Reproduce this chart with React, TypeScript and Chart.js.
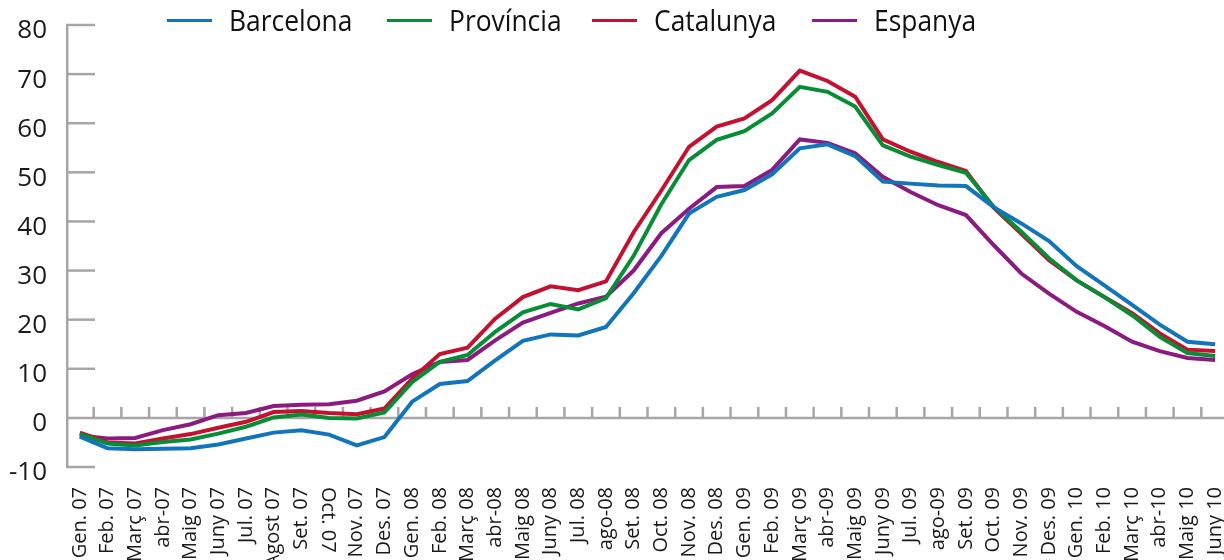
import React, { useEffect, useRef } from "react";
import { Chart, registerables } from "chart.js";

Chart.register(...registerables);

const categories = [
  "Gen. 07", "Feb. 07", "Març 07", "abr-07", "Maig 07", "Juny 07", "Jul. 07", "Agost 07", "Set. 07", "Oct. 07",
  "Nov. 07", "Des. 07", "Gen. 08", "Feb. 08", "Març 08", "abr-08", "Maig 08", "Juny 08", "Jul. 08", "ago-08",
  "Set. 08", "Oct. 08", "Nov. 08", "Des. 08", "Gen. 09", "Feb. 09", "Març 09", "abr-09", "Maig 09", "Juny 09",
  "Jul. 09", "ago-09", "Set. 09", "Oct. 09", "Nov. 09", "Des. 09", "Gen. 10", "Feb. 10", "Març 10", "abr-10",
  "Maig 10", "Juny 10",
];

const barcelona = [-3.8, -6.2, -6.4, -6.3, -6.2, -5.4, -4.2, -3.0, -2.5, -3.4, -5.6, -3.9, 3.3, 6.9, 7.5, 11.7, 15.7, 17.0, 16.8, 18.5, 25.4, 33.0, 41.6, 45.0, 46.4, 49.6, 54.9, 55.7, 53.3, 48.1, 47.7, 47.3, 47.2, 42.9, 39.6, 36.0, 30.9, 27.0, 23.0, 19.0, 15.5, 15.0];
const provincia = [-3.3, -5.2, -5.6, -4.9, -4.4, -3.2, -1.8, 0.1, 0.7, 0.0, -0.1, 1.1, 7.3, 11.4, 12.8, 17.5, 21.5, 23.2, 22.1, 24.4, 33.0, 43.5, 52.5, 56.6, 58.4, 62.0, 67.4, 66.4, 63.4, 55.5, 53.2, 51.5, 49.9, 43.0, 37.9, 32.5, 28.0, 24.6, 20.9, 16.5, 13.2, 12.6];
const catalunya = [-3.0, -5.0, -5.2, -4.2, -3.3, -2.0, -0.8, 1.2, 1.4, 1.0, 0.75, 1.9, 8.0, 13.0, 14.3, 20.2, 24.6, 26.8, 26.0, 27.8, 37.8, 46.3, 55.2, 59.3, 61.0, 64.7, 70.7, 68.6, 65.4, 56.7, 54.2, 52.1, 50.3, 42.8, 37.5, 32.1, 28.0, 24.6, 21.3, 17.2, 13.9, 13.6];
const espanya = [-3.6, -4.2, -4.1, -2.5, -1.3, 0.55, 1.0, 2.4, 2.7, 2.8, 3.5, 5.4, 8.9, 11.4, 11.8, 15.8, 19.4, 21.4, 23.3, 24.7, 30.0, 37.6, 42.6, 47.0, 47.2, 50.5, 56.7, 56.0, 53.9, 49.1, 46.0, 43.3, 41.3, 35.2, 29.4, 25.3, 21.6, 18.7, 15.5, 13.6, 12.2, 11.8];

const seriesNames = ["Barcelona", "Província", "Catalunya", "Espanya"];
const seriesColors = ["#1275bb", "#078d35", "#c4112f", "#8c1b80"];
const yTicks = [-10, 0, 10, 20, 30, 40, 50, 60, 70, 80];
const flippedLabelIndex = 9;

const legendLeft = [167, 387, 592, 812];

const FONT = "'Open Sans', 'Noto Sans', sans-serif";
const AXIS_GRAY = "#a6a6a6";

const axisPlugin = {
  id: "customAxes",
  beforeDatasetsDraw(chart: any) {
    const ctx = chart.ctx;
    const x = chart.scales.x;
    const y = chart.scales.y;
    const area = chart.chartArea;
    ctx.save();
    ctx.strokeStyle = AXIS_GRAY;
    ctx.lineWidth = 2.5;
    const ax = area.left + 1.2;
    ctx.beginPath();
    ctx.moveTo(ax, y.getPixelForValue(80));
    ctx.lineTo(ax, y.getPixelForValue(-10));
    ctx.stroke();
    yTicks.forEach((v) => {
      const py = y.getPixelForValue(v);
      ctx.beginPath();
      ctx.moveTo(area.left, py);
      ctx.lineTo(v === 0 ? area.right : area.left + 29, py);
      ctx.stroke();
    });
    const py0 = y.getPixelForValue(0);
    for (let i = 0; i < categories.length - 1; i++) {
      const bx = (x.getPixelForValue(i) + x.getPixelForValue(i + 1)) / 2;
      ctx.beginPath();
      ctx.moveTo(bx, py0);
      ctx.lineTo(bx, py0 - 11);
      ctx.stroke();
    }
    ctx.restore();
  },
  afterDraw(chart: any) {
    const ctx = chart.ctx;
    const x = chart.scales.x;
    const area = chart.chartArea;
    ctx.save();
    ctx.fillStyle = "#1a1a1a";
    ctx.font = `20px ${FONT}`;
    ctx.textBaseline = "middle";
    ctx.textAlign = "left";
    const px = x.getPixelForValue(flippedLabelIndex);
    ctx.translate(px - 1, area.bottom + 20);
    ctx.rotate(Math.PI / 2);
    ctx.fillText(categories[flippedLabelIndex], 0, 0);
    ctx.restore();
  },
};

export default function App() {
  const canvasRef = useRef<HTMLCanvasElement | null>(null);

  useEffect(() => {
    document.body.style.margin = "0";
    const canvas = canvasRef.current;
    if (!canvas) return;
    const data = [barcelona, provincia, catalunya, espanya];
    const chart = new Chart(canvas, {
      type: "line",
      data: {
        labels: categories,
        datasets: data.map((d, i) => ({
          label: seriesNames[i],
          data: d,
          borderColor: seriesColors[i],
          backgroundColor: seriesColors[i],
          borderWidth: 4,
          pointRadius: 0,
          tension: 0,
          fill: false,
        })),
      },
      options: {
        responsive: false,
        animation: false,
        devicePixelRatio: 1,
        layout: { padding: { top: 25, left: 0, right: 0, bottom: 0 } },
        plugins: {
          legend: { display: false },
          tooltip: { enabled: false },
        },
        scales: {
          x: {
            type: "category",
            offset: true,
            grid: { display: false, drawTicks: false },
            border: { display: false },
            ticks: {
              autoSkip: false,
              maxRotation: 90,
              minRotation: 90,
              padding: 20,
              color: "#1a1a1a",
              font: { family: FONT, size: 20 },
              callback: (_v: any, i: number) => (i === flippedLabelIndex ? "" : categories[i]),
            },
            afterFit: (s: any) => {
              s.height = 93;
              s.paddingLeft = 0;
              s.paddingRight = 0;
            },
          },
          y: {
            min: -10,
            max: 80,
            grid: { display: false, drawTicks: false },
            border: { display: false },
            ticks: {
              stepSize: 10,
              padding: 19,
              labelOffset: 6,
              color: "#1a1a1a",
              font: { family: FONT, size: 26 },
            },
            afterFit: (s: any) => {
              s.width = 66;
              s.paddingTop = 0;
              s.paddingBottom = 0;
            },
          },
        },
      },
      plugins: [axisPlugin],
    });
    return () => chart.destroy();
  }, []);

  return (
    <div style={{ position: "relative", width: 1224, height: 560, overflow: "hidden", background: "#fff" }}>
      <canvas ref={canvasRef} width={1229} height={560} style={{ display: "block", width: 1229, height: 560 }} />
      {seriesNames.map((name, i) => (
        <div key={name} style={{ position: "absolute", left: legendLeft[i], top: 0, height: 40 }}>
          <div style={{ position: "absolute", left: 0, top: 19, width: 45, height: 3, background: seriesColors[i] }} />
          <div
            style={{
              position: "absolute",
              left: 62,
              top: 5,
              fontFamily: FONT,
              fontSize: 30,
              lineHeight: "30px",
              color: "#111",
              whiteSpace: "nowrap",
              transform: "scaleX(0.88)",
              transformOrigin: "left center",
            }}
          >
            {name}
          </div>
        </div>
      ))}
    </div>
  );
}
